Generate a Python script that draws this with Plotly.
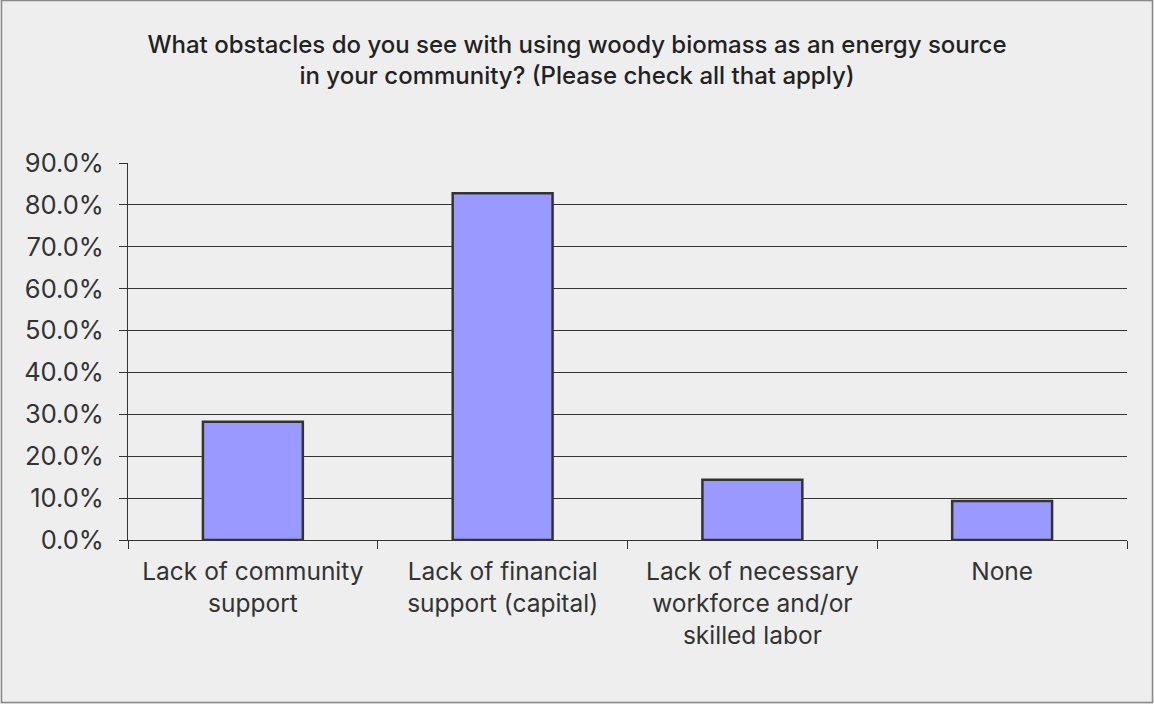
import plotly.graph_objects as go

categories = [
    "Lack of community<br>support",
    "Lack of financial<br>support (capital)",
    "Lack of necessary<br>workforce and/or<br>skilled labor",
    "None",
]
values = [0.282, 0.828, 0.144, 0.093]
y_ticks = [0.0, 0.1, 0.2, 0.3, 0.4, 0.5, 0.6, 0.7, 0.8, 0.9]
title_text = ("What obstacles do you see with using woody biomass as an energy source"
              "<br>in your community? (Please check all that apply)")

W, H = 1154, 704
L, R, T, B = 128, 27, 163, 164
pw, ph = W - L - R, H - T - B

font_fam = "Inter, Roboto, sans-serif"
txt = "#333333"

fig = go.Figure(go.Bar(
    x=categories, y=values,
    marker=dict(color="#9999ff", line=dict(color="#333333", width=2.5)),
    width=0.4,
))

fig.update_layout(
    width=W, height=H,
    margin=dict(l=L, r=R, t=T, b=B),
    paper_bgcolor="#eeeeee", plot_bgcolor="#eeeeee",
    showlegend=False,
    title=dict(text=title_text, x=0.5, xanchor="center", y=1 - 53 / H, yanchor="middle",
               font=dict(family=font_fam, size=24, color="#222222", weight=500)),
    font=dict(family=font_fam, size=24, color=txt),
    bargap=0.6,
)
fig.update_xaxes(
    showgrid=False, showline=True, linecolor="#333333", linewidth=1,
    ticks="outside", tickson="boundaries", ticklen=8, tickcolor="#333333",
    ticklabelstandoff=10,
    tickfont=dict(family=font_fam, size=24.5, color=txt),
)
fig.update_yaxes(
    range=[0, 0.9], tickvals=y_ticks, tickformat=".1%",
    showgrid=True, gridcolor="#333333", gridwidth=1,
    showline=True, linecolor="#333333", linewidth=1,
    ticks="outside", ticklen=8, tickcolor="#333333",
    ticklabelstandoff=10,
    zeroline=False,
    tickfont=dict(family=font_fam, size=25.5, color=txt),
)

# outer border of the chart frame
fig.add_shape(type="rect", xref="paper", yref="paper",
              x0=(1.5 - L) / pw, x1=(W - 1.5 - L) / pw,
              y0=-(B - 1.5) / ph, y1=1 + (T - 0.5) / ph,
              line=dict(color="#888888", width=1.5), fillcolor="rgba(0,0,0,0)", layer="below")

fig.write_html("out.html")
